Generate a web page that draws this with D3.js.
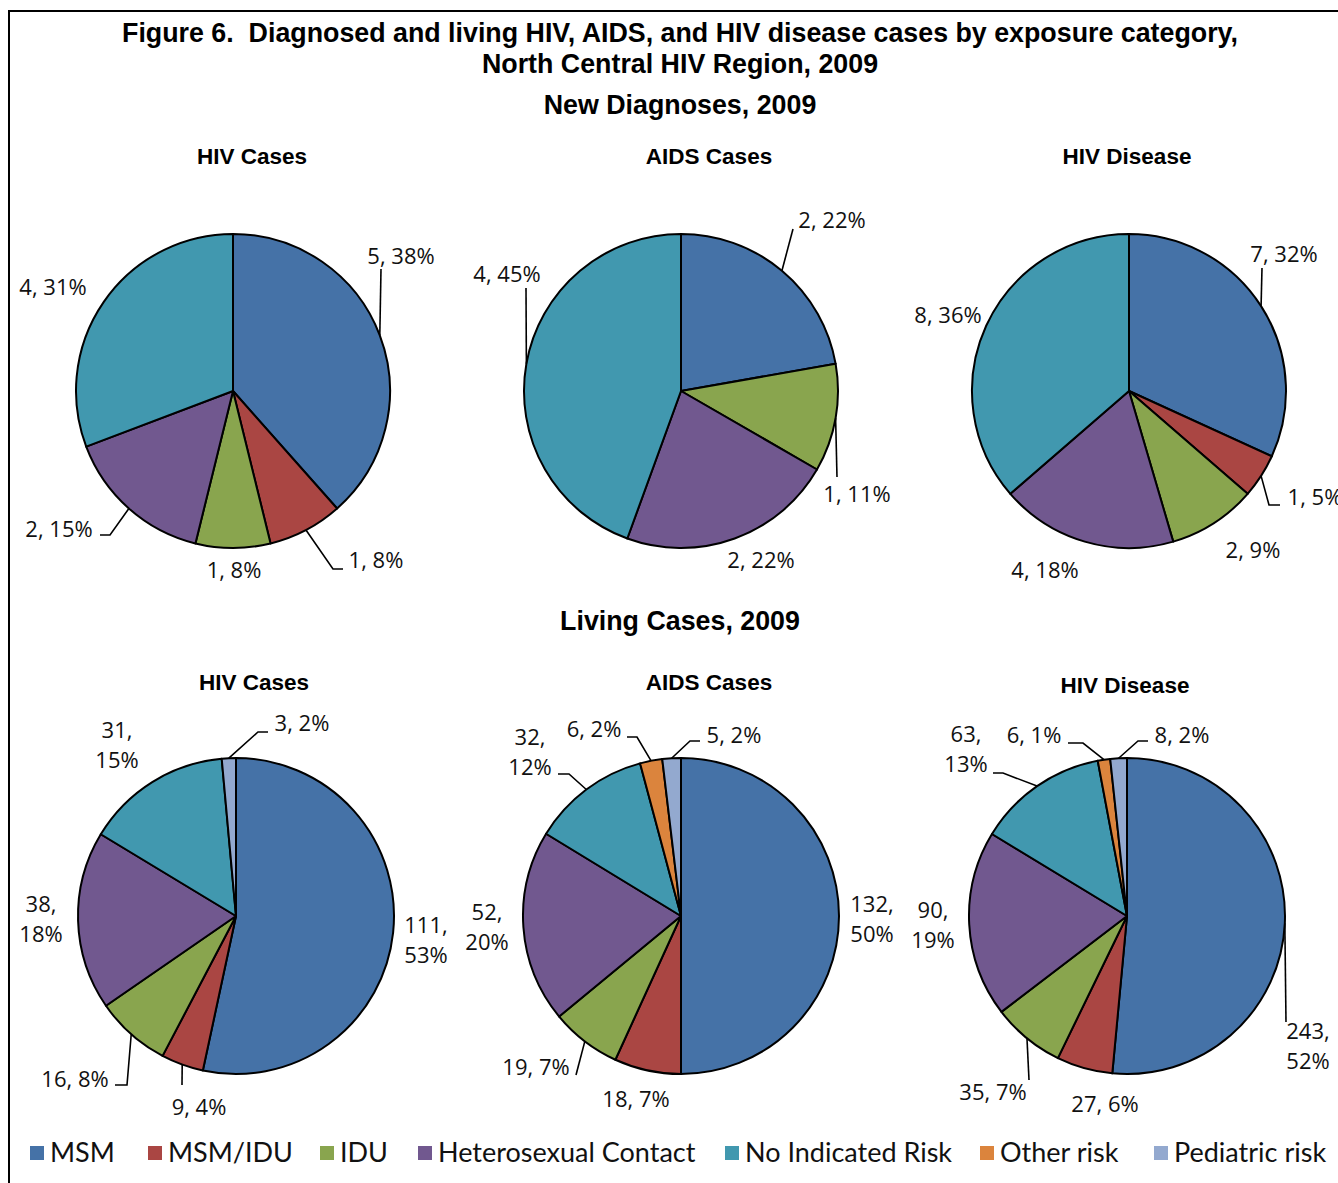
<!DOCTYPE html>
<html>
<head>
<meta charset="utf-8">
<script src="https://cdn.jsdelivr.net/npm/d3@7"></script>
<style>
  html, body { margin: 0; padding: 0; background: #fff; }
  svg { display: block; }
  .title { font-family: "Liberation Sans", Arial, sans-serif; font-weight: bold; fill: #000; white-space: pre; }
  .lbl { font-family: "Open Sans", sans-serif; fill: #111; }
  .leg { font-family: "Lato", sans-serif; fill: #111; }
</style>
</head>
<body>
<svg id="chart" width="1338" height="1183"></svg>
<script>
// Exposure categories, in slice order (clockwise from 12 o'clock)
const categories = ["MSM", "MSM/IDU", "IDU", "Heterosexual Contact", "No Indicated Risk", "Other risk", "Pediatric risk"];
const colors = ["#4572A7", "#AA4643", "#89A54E", "#71588F", "#4198AF", "#DB843D", "#93A9CF"];

const panelTitles = ["HIV Cases", "AIDS Cases", "HIV Disease"];
const rowTitles = ["New Diagnoses, 2009", "Living Cases, 2009"];

// New diagnoses, 2009 (case counts)
const newHIV     = [5, 1, 1, 2, 4, 0, 0];
const newAIDS    = [2, 0, 1, 2, 4, 0, 0];
const newDisease = [7, 1, 2, 4, 8, 0, 0];
// Living cases, 2009 (case counts)
const livingHIV     = [111, 9, 16, 38, 31, 0, 3];
const livingAIDS    = [132, 18, 19, 52, 32, 6, 5];
const livingDisease = [243, 27, 35, 90, 63, 6, 8];

// Reported percentages shown with each count
const newHIVPct     = [38, 8, 8, 15, 31, null, null];
const newAIDSPct    = [22, null, 11, 22, 45, null, null];
const newDiseasePct = [32, 5, 9, 18, 36, null, null];
const livingHIVPct     = [53, 4, 8, 18, 15, null, 2];
const livingAIDSPct    = [50, 7, 7, 20, 12, 2, 2];
const livingDiseasePct = [52, 6, 7, 19, 13, 1, 2];

// ---- layout -------------------------------------------------------------
const svg = d3.select("#chart");

// outer frame (runs past the right/bottom edges)
svg.append("rect").attr("x", 9).attr("y", 11).attr("width", 1400).attr("height", 1300)
  .attr("fill", "none").attr("stroke", "#000").attr("stroke-width", 2);

svg.append("text").attr("class", "title").attr("x", 680).attr("y", 42)
  .attr("text-anchor", "middle").style("font-size", "26.8px")
  .text("Figure 6.  Diagnosed and living HIV, AIDS, and HIV disease cases by exposure category,");
svg.append("text").attr("class", "title").attr("x", 680).attr("y", 73)
  .attr("text-anchor", "middle").style("font-size", "26.8px")
  .text("North Central HIV Region, 2009");

const rowTitleY = [114, 630];
rowTitles.forEach((t, i) => {
  svg.append("text").attr("class", "title").attr("x", 680).attr("y", rowTitleY[i])
    .attr("text-anchor", "middle").style("font-size", "26.8px").text(t);
});

// Label placement per panel: [dx, dy] of label (center, first baseline) relative
// to pie center, number of lines, and optional leader path points (after the arc point).
const L = (dx, dy, lines, leader) => ({ dx, dy, lines: lines || 1, leader: leader || null });
const panels = [
  { values: newHIV, pct: newHIVPct, cx: 233, cy: 391, r: 157, title: 0, tx: 252, ty: 164,
    labels: [L(168, -127, 1, [[148, -122]]), L(143, 177, 1, [[100, 178], [110, 178]]), L(1, 187),
             L(-174, 146, 1, [[-123, 144], [-133, 144]]), L(-180, -96), null, null] },
  { values: newAIDS, pct: newAIDSPct, cx: 681, cy: 391, r: 157, title: 1, tx: 709, ty: 164,
    labels: [L(151, -163, 1, [[112, -162]]), null, L(176, 111, 1, [[156, 86]]),
             L(80, 177), L(-174, -109, 1, [[-155, -103]]), null, null] },
  { values: newDisease, pct: newDiseasePct, cx: 1129, cy: 391, r: 157, title: 2, tx: 1127, ty: 164,
    labels: [L(155, -129, 1, [[133, -123]]), L(186, 114, 1, [[140, 114], [151, 114]]), L(124, 167),
             L(-84, 187), L(-181, -68), null, null] },
  { values: livingHIV, pct: livingHIVPct, cx: 236, cy: 916, r: 158, title: 0, tx: 254, ty: 690,
    labels: [L(190, 17, 2), L(-37, 199, 1, [[-54, 169]]), L(-161, 171, 1, [[-109, 169], [-121, 169]]),
             L(-195, -4, 2), L(-119, -178, 2), null, L(66, -185, 1, [[22, -184], [32, -184]])] },
  { values: livingAIDS, pct: livingAIDSPct, cx: 681, cy: 916, r: 158, title: 1, tx: 709, ty: 690,
    labels: [L(191, -4, 2), L(-45, 191), L(-145, 159, 1, [[-105, 159]]), L(-194, 4, 2),
             L(-151, -171, 2, [[-112, -142], [-123, -142]]), L(-87, -179, 1, [[-44, -179], [-54, -179]]),
             L(53, -173, 1, [[9, -175], [19, -175]])] },
  { values: livingDisease, pct: livingDiseasePct, cx: 1127, cy: 916, r: 158, title: 2, tx: 1125, ty: 693,
    labels: [L(181, 123, 2, [[159, 106]]), L(-22, 196), L(-134, 184, 1, [[-98, 164]]), L(-194, 2, 2),
             L(-161, -174, 2, [[-124, -143], [-134, -143]]), L(-93, -173, 1, [[-44, -173], [-59, -173]]),
             L(55, -173, 1, [[11, -175], [21, -175]])] }
];

const pie = d3.pie().sort(null).value(d => d.v);

panels.forEach(p => {
  svg.append("text").attr("class", "title").attr("x", p.tx).attr("y", p.ty)
    .attr("text-anchor", "middle").style("font-size", "22.5px").text(panelTitles[p.title]);

  const data = p.values.map((v, i) => ({ v, i, pct: p.pct[i], lab: p.labels[i] }));
  const arcs = pie(data).filter(d => d.data.v > 0);
  const arc = d3.arc().innerRadius(0).outerRadius(p.r);
  const edge = d3.arc().innerRadius(p.r).outerRadius(p.r);

  const g = svg.append("g").attr("transform", `translate(${p.cx},${p.cy})`);
  g.selectAll("path.slice").data(arcs).join("path")
    .attr("class", "slice")
    .attr("d", arc)
    .attr("fill", d => colors[d.data.i])
    .attr("stroke", "#000").attr("stroke-width", 2).attr("stroke-linejoin", "round");

  // leader lines: from the slice's mid-arc point to the label
  const line = d3.line();
  g.selectAll("path.leader").data(arcs.filter(d => d.data.lab && d.data.lab.leader)).join("path")
    .attr("class", "leader")
    .attr("d", d => line([edge.centroid(d)].concat(d.data.lab.leader)))
    .attr("fill", "none").attr("stroke", "#000").attr("stroke-width", 1.6);

  // data labels: "count, pct%"
  arcs.filter(d => d.data.lab).forEach(d => {
    const lab = d.data.lab;
    const t = g.append("text").attr("class", "lbl").attr("text-anchor", "middle")
      .style("font-size", "22px");
    if (lab.lines === 2) {
      t.append("tspan").attr("x", lab.dx).attr("y", lab.dy).text(`${d.data.v},`);
      t.append("tspan").attr("x", lab.dx).attr("y", lab.dy + 30).text(`${d.data.pct}%`);
    } else {
      t.attr("x", lab.dx).attr("y", lab.dy).text(`${d.data.v}, ${d.data.pct}%`);
    }
  });
});

// legend
const legendX = [30, 148, 320, 418, 725, 980, 1154];
const leg = svg.append("g");
categories.forEach((c, i) => {
  leg.append("rect").attr("x", legendX[i]).attr("y", 1146).attr("width", 14).attr("height", 14)
    .attr("fill", colors[i]);
  leg.append("text").attr("class", "leg").attr("x", legendX[i] + 20).attr("y", 1162)
    .style("font-size", "27px").text(c);
});
</script>
</body>
</html>
